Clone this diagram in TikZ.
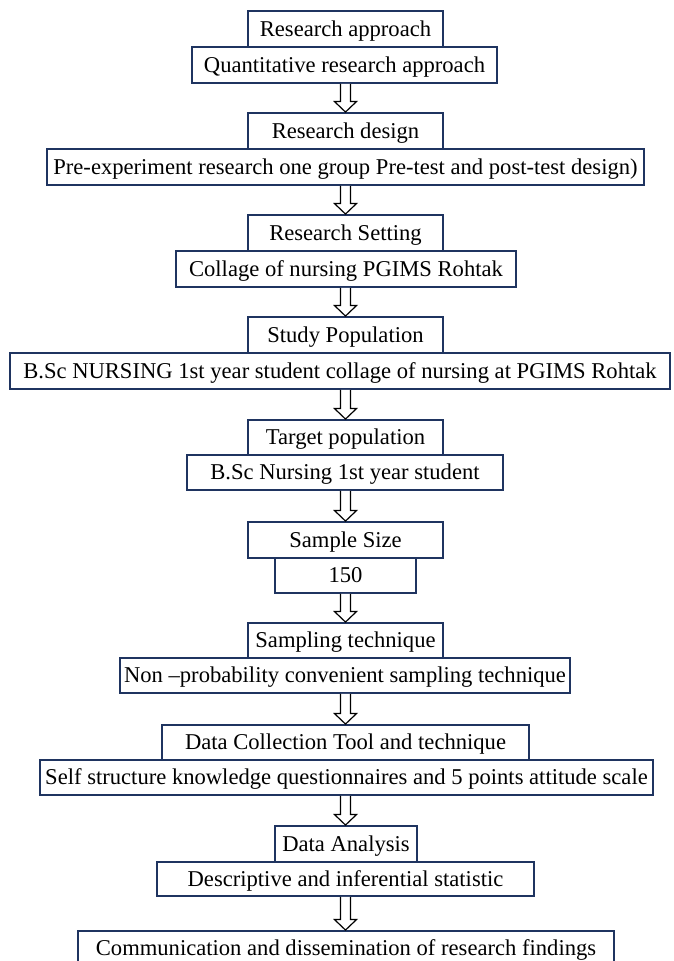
\documentclass[tikz,border=0pt]{standalone}
\usepackage{fontspec}
\setmainfont{Liberation Serif}
\usetikzlibrary{calc}
\definecolor{boxblue}{HTML}{1F3460}
\tikzset{
  fbox/.style={draw=boxblue, line width=1.9pt, fill=white, inner sep=0pt, text=black,
    text height=15pt, text depth=1pt, font=\fontsize{22.6}{26}\selectfont},
  blockarrow/.style={draw=black, line width=1.2pt, fill=white, line join=miter}
}
% name, x1, x2, ytop, ybot, text
\newcommand{\pbox}[6]{%
  \node[fbox, minimum width={#3-#2}, minimum height={#5-#4}] (#1) at ({(#2+#3)/2},{(#4+#5)/2}) {#6};
}
% from node, to node : hollow block arrow on the axis x=345.5
\newcommand{\blockdown}[2]{%
  \path (#1.south -| axis) coordinate (s) (#2.north -| axis) coordinate (e);
  \draw[blockarrow] ($(s)+(-5,0)$) -- ($(e)+(-5,-10.5)$) -- ($(e)+(-11,-10.5)$) -- (e) -- ($(e)+(11,-10.5)$) -- ($(e)+(5,-10.5)$) -- ($(s)+(5,0)$);
}
\begin{document}
\begin{tikzpicture}[x=1pt,y=-1pt]
\useasboundingbox (0,0) rectangle (673,961);
\clip (0,0) rectangle (673,961);
\fill[white] (0,0) rectangle (673,961);
\coordinate (axis) at (345.5,0);
\pbox{a1}{248}{443}{11}{47}{Research approach}
\pbox{b1}{192}{497}{47}{83}{Quantitative research approach}
\pbox{a2}{248}{443}{113}{149}{Research design}
\pbox{b2}{47}{644}{149}{185}{Pre-experiment research one group Pre-test and post-test design)}
\pbox{a3}{248}{443}{215}{251}{Research Setting}
\pbox{b3}{176}{516}{251}{287}{Collage of nursing PGIMS Rohtak}
\pbox{a4}{248}{443}{317}{353}{Study Population}
\pbox{b4}{10}{670}{353}{389}{B.Sc NURSING 1st year student collage of nursing at PGIMS Rohtak}
\pbox{a5}{248}{443}{420}{455}{Target population}
\pbox{b5}{187}{503}{455}{490}{B.Sc Nursing 1st year student}
\pbox{a6}{248}{443}{522}{558}{Sample Size}
\pbox{b6}{275}{416}{558}{593}{150}
\pbox{a7}{248}{443}{623}{658}{Sampling technique}
\pbox{b7}{120}{570}{658}{693}{Non –probability convenient sampling technique}
\pbox{a8}{162}{529}{725}{760}{Data Collection Tool and technique}
\pbox{b8}{40}{653}{760}{795}{Self structure knowledge questionnaires and 5 points attitude scale}
\pbox{a9}{275}{417}{826}{862}{Data Analysis}
\pbox{b9}{157}{534}{862}{896}{Descriptive and inferential statistic}
\pbox{b10}{78}{614}{931}{966}{Communication and dissemination of research findings}
\blockdown{b1}{a2}
\blockdown{b2}{a3}
\blockdown{b3}{a4}
\blockdown{b4}{a5}
\blockdown{b5}{a6}
\blockdown{b6}{a7}
\blockdown{b7}{a8}
\blockdown{b8}{a9}
\blockdown{b9}{b10}
\end{tikzpicture}
\end{document}
